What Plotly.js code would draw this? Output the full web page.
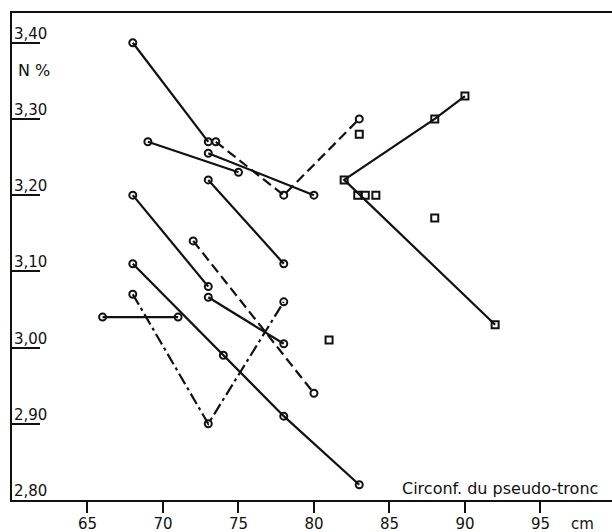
<!DOCTYPE html>
<html>
<head>
<meta charset="utf-8">
<script src="https://cdn.plot.ly/plotly-3.0.1.min.js"></script>
<style>html,body{margin:0;padding:0;background:#fff;}#chart{width:612px;height:532px;}</style>
</head>
<body>
<div id="chart"></div>
<script>
// X ticks (cm)
const xTickVals = [65, 70, 75, 80, 85, 90, 95];
const xTickText = ['65', '70', '75', '80', '85', '90', '95'];
// Y ticks (N %)
const yTickVals = [2.80, 2.90, 3.00, 3.10, 3.20, 3.30, 3.40];
const yTickText = ['2,80', '2,90', '3,00', '3,10', '3,20', '3,30', '3,40'];

// Solid lines with open circles
const s1x = [68, 73];            const s1y = [3.40, 3.27];
const s2x = [69, 75];            const s2y = [3.27, 3.23];
const s3x = [73, 80];            const s3y = [3.255, 3.20];
const s4x = [73, 78];            const s4y = [3.22, 3.11];
const s5x = [68, 73];            const s5y = [3.20, 3.08];
const s6x = [68, 74, 78, 83];    const s6y = [3.11, 2.99, 2.91, 2.82];
const s7x = [73, 78];            const s7y = [3.066, 3.005];
const s8x = [66, 71];            const s8y = [3.04, 3.04];
// Dashed lines with open circles
const d1x = [73.5, 78, 83];      const d1y = [3.27, 3.20, 3.30];
const d2x = [72, 80];            const d2y = [3.14, 2.94];
// Dash-dot line with open circles
const dd1x = [68, 73, 78];       const dd1y = [3.07, 2.90, 3.06];
// Squares joined by a line
const q1x = [90, 88, 82, 92];    const q1y = [3.33, 3.30, 3.22, 3.03];
// Isolated squares
const q2x = [82.9, 83.4, 84.1, 83, 88, 81];
const q2y = [3.20, 3.20, 3.20, 3.28, 3.17, 3.01];

const INK = '#111';
function circ(x, y, dash) {
  return {x: x, y: y, type: 'scatter', mode: 'lines+markers',
    line: {color: INK, width: 2.2, dash: dash},
    marker: {symbol: 'circle-open', size: 7, color: INK, line: {width: 2, color: INK}},
    hoverinfo: 'skip'};
}
const traces = [
  circ(s1x, s1y, 'solid'), circ(s2x, s2y, 'solid'), circ(s3x, s3y, 'solid'),
  circ(s4x, s4y, 'solid'), circ(s5x, s5y, 'solid'), circ(s6x, s6y, 'solid'),
  circ(s7x, s7y, 'solid'), circ(s8x, s8y, 'solid'),
  circ(d1x, d1y, '10px,5px'), circ(d2x, d2y, '10px,5px'),
  circ(dd1x, dd1y, '12px,4px,3px,4px'),
  {x: q1x, y: q1y, type: 'scatter', mode: 'lines+markers',
    line: {color: INK, width: 2.2},
    marker: {symbol: 'square-open', size: 7, color: INK, line: {width: 2, color: INK}}},
  {x: q2x, y: q2y, type: 'scatter', mode: 'markers',
    marker: {symbol: 'square-open', size: 7, color: INK, line: {width: 2, color: INK}}}
];

const FONT = 'DejaVu Sans, Liberation Sans, Arial, sans-serif';

// Y tick labels sit above their tick marks, as in the original print
const yLabelAnns = yTickVals.map((v, i) => ({
  text: yTickText[i], xref: 'paper', yref: 'y', x: 0, y: v,
  xanchor: 'left', yanchor: 'bottom', yshift: -2, showarrow: false,
  font: {family: FONT, size: 15, color: INK}
}));

const layout = {
  width: 612, height: 532,
  margin: {l: 12, r: 0, t: 13, b: 32, pad: 0},
  paper_bgcolor: '#fff', plot_bgcolor: '#fff',
  showlegend: false,
  font: {family: FONT, color: INK, size: 15},
  xaxis: {
    range: [60, 99.74], tickvals: xTickVals, ticktext: xTickText,
    ticks: 'outside', ticklen: 11, tickwidth: 2, tickcolor: INK,
    ticklabelstandoff: -2,
    showline: true, linewidth: 2, linecolor: INK, mirror: true,
    showgrid: false, zeroline: false,
    tickfont: {family: FONT, size: 15, color: INK}
  },
  yaxis: {
    range: [2.80, 3.439], tickvals: yTickVals, ticktext: yTickText,
    ticks: 'inside', ticklen: 28, tickwidth: 2, tickcolor: INK,
    showticklabels: false,
    showline: true, linewidth: 2, linecolor: INK, mirror: false,
    showgrid: false, zeroline: false
  },
  annotations: yLabelAnns.concat([
    {text: 'N %', xref: 'paper', yref: 'y', x: 0.037, y: 3.364,
     xanchor: 'center', yanchor: 'middle', showarrow: false,
     font: {family: FONT, size: 16, color: INK}},
    {text: 'Circonf. du pseudo-tronc', xref: 'paper', yref: 'paper', x: 0.98, y: 0.0,
     xanchor: 'right', yanchor: 'bottom', showarrow: false,
     font: {family: FONT, size: 16, color: INK}},
    {text: 'cm', xref: 'paper', yref: 'paper', x: 0.95, y: -0.049,
     xanchor: 'center', yanchor: 'middle', showarrow: false,
     font: {family: FONT, size: 15, color: INK}}
  ])
};
Plotly.newPlot('chart', traces, layout, {displayModeBar: false, staticPlot: true});
</script>
</body>
</html>
